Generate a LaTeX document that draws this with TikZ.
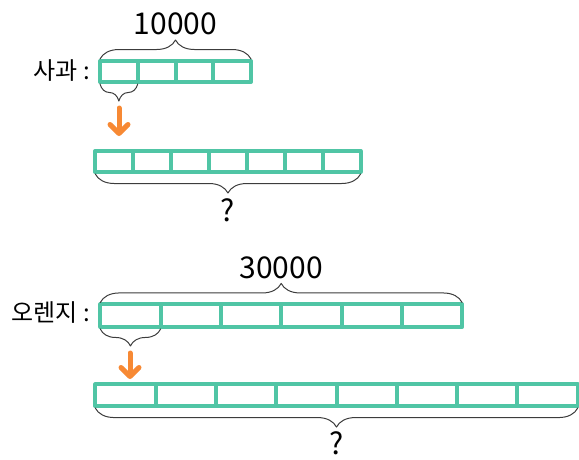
\documentclass[tikz,border=0pt]{standalone}
\usepackage{fontspec}
\setmainfont{Noto Sans CJK KR}
\usetikzlibrary{arrows.meta,decorations.pathreplacing}
\definecolor{barcol}{RGB}{80,197,165}
\definecolor{arrcol}{RGB}{247,137,52}
\definecolor{bracecol}{RGB}{60,60,60}
\tikzset{
  cell/.style={draw=barcol,line width=4pt,minimum height=21pt,inner sep=0pt,outer sep=0pt},
  curly/.style={decorate,decoration={brace,amplitude=19pt,raise=2pt},draw=bracecol,line width=1pt},
  smallcurly/.style={decorate,decoration={brace,amplitude=17pt,raise=2pt},draw=bracecol,line width=1pt},
  downarr/.style={draw=arrcol,line width=5pt,-{Straight Barb[length=9pt,width=18pt,line cap=round,line join=round]}},
  numtext/.style={font=\fontsize{30}{32}\selectfont,inner sep=0pt},
  nametext/.style={font=\fontsize{24}{26}\selectfont,inner sep=0pt,anchor=east}
}
\begin{document}
\begin{tikzpicture}[x=1pt,y=-1pt,line cap=round,line join=round]
\useasboundingbox (0,0) rectangle (579,459);
% apple
\foreach \i in {1,...,4}
  \node[cell,minimum width=37.75pt] (a\i) at ({100+37.75*(\i-0.5)},71.5) {};
\foreach \i in {1,...,7}
  \node[cell,minimum width=37.9pt] (b\i) at ({95.3+37.9*(\i-0.5)},161.5) {};
\node[nametext] (aname) at (90,71) {사과 :};
\draw[curly] (a1.north west) -- (a4.north east) node[midway,above=26pt,numtext] (atop) {10000};
\draw[smallcurly] (a1.south east) -- (a1.south west);
\coordinate (astart) at (119,108);
\coordinate (aend) at (119,136);
\draw[downarr] (astart) -- (aend);
\draw[curly] (b7.south east) -- (b1.south west) node[midway,below=26pt,numtext] (aq) {?};
% orange
\foreach \i in {1,...,6}
  \node[cell,minimum width=60.3pt,minimum height=22.5pt] (c\i) at ({100.3+60.3*(\i-0.5)},315.7) {};
\foreach \i in {1,...,8}
  \node[cell,minimum width=60.3pt,minimum height=21.7pt] (d\i) at ({95.3+60.3*(\i-0.5)},395.2) {};
\node[nametext] (oname) at (90,313) {오렌지 :};
\draw[curly] (c1.north west) -- (c6.north east) node[midway,above=25pt,numtext] (otop) {30000};
\draw[smallcurly] (c1.south east) -- (c1.south west);
\coordinate (ostart) at (130,353);
\coordinate (oend) at (130,379);
\draw[downarr] (ostart) -- (oend);
\draw[curly] (d8.south east) -- (d1.south west) node[midway,below=25pt,numtext] (oq) {?};
\end{tikzpicture}
\end{document}
